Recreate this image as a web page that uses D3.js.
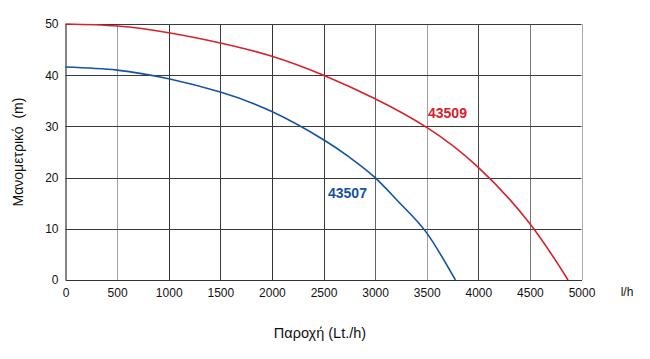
<!DOCTYPE html>
<html><head><meta charset="utf-8">
<script src="https://cdn.jsdelivr.net/npm/d3@7"></script>
<style>body{margin:0;background:#fff}svg{display:block;font-family:"Liberation Sans",Arial,sans-serif}</style>
</head><body>
<svg id="c" width="650" height="359"></svg>
<script>
const xTicks = [0,500,1000,1500,2000,2500,3000,3500,4000,4500,5000];
const yTicks = [0,10,20,30,40,50];
const flow43509 = [0,500,1000,1500,2000,2500,3000,3500,4000,4500,4870];
const head43509 = [50,49.6,48.3,46.3,43.7,40,35.4,29.8,22.0,11.0,0];
const flow43507 = [0,500,1000,1500,2000,2500,2750,3000,3250,3500,3778];
const head43507 = [41.6,41.0,39.3,36.7,32.9,27.4,24.0,20,14.8,9.2,0];
const seriesNames = ["43509","43507"];
const gridShade = {500:"#a0a0a0",1000:"#333",1500:"#3a3a3a",2000:"#333",2500:"#3a3a3a",3000:"#666",3500:"#a0a0a0",4000:"#444",4500:"#777",5000:"#aaa"};

const svg = d3.select("#c");
const x = d3.scaleLinear().domain([0,5000]).range([65.5,581.5]);
const y = d3.scaleLinear().domain([0,50]).range([280,24]);

// grid
svg.append("g").selectAll("line").data(xTicks.filter(d=>d>0)).join("line")
  .attr("x1",d=>Math.round(x(d))+0.5).attr("x2",d=>Math.round(x(d))+0.5)
  .attr("y1",y(50)).attr("y2",y(0))
  .attr("stroke",d=>gridShade[d]).attr("stroke-width",1);
svg.append("g").selectAll("line").data(yTicks.filter(d=>d>0)).join("line")
  .attr("x1",x(0)).attr("x2",x(5000))
  .attr("y1",d=>Math.round(y(d))+0.5).attr("y2",d=>Math.round(y(d))+0.5)
  .attr("stroke","#3a3a3a").attr("stroke-width",1);

// axes
const xAxis = svg.append("g").attr("transform",`translate(0,${y(0)})`)
  .call(d3.axisBottom(x).tickValues(xTicks).tickSize(0).tickPadding(8).tickFormat(d3.format("d")));
xAxis.select(".domain").attr("stroke","#333").attr("stroke-width",1.2);
xAxis.selectAll("text").attr("font-size",12).attr("fill","#111").attr("font-family","Liberation Sans, Arial, sans-serif");
const yAxis = svg.append("g").attr("transform",`translate(${x(0)},0)`)
  .call(d3.axisLeft(y).tickValues(yTicks).tickSize(0).tickPadding(7));
yAxis.select(".domain").attr("stroke","#333").attr("stroke-width",1.2);
yAxis.selectAll("text").attr("font-size",12).attr("fill","#111").attr("font-family","Liberation Sans, Arial, sans-serif");

svg.append("text").attr("x",627).attr("y",296).attr("text-anchor","middle")
  .attr("font-size",12).attr("fill","#111").text("l/h");

// titles
svg.append("text").attr("x",320).attr("y",338).attr("text-anchor","middle")
  .attr("font-size",14.5).attr("fill","#111").text("Παροχή (Lt./h)");
svg.append("text").attr("transform","translate(23,152) rotate(-90)").attr("text-anchor","middle")
  .attr("font-size",14).attr("fill","#111").attr("xml:space","preserve").text("Μανομετρικό  (m)");

// curves
const line = d3.line().x(d=>x(d[0])).y(d=>y(d[1])).curve(d3.curveNatural);
const d09 = flow43509.map((f,i)=>[f,head43509[i]]);
const d07 = flow43507.map((f,i)=>[f,head43507[i]]);
svg.append("path").attr("d",line(d09)).attr("fill","none").attr("stroke","#d9212b").attr("stroke-width",1.6);
svg.append("path").attr("d",line(d07)).attr("fill","none").attr("stroke","#1453a0").attr("stroke-width",1.6);

svg.append("text").attr("x",428).attr("y",118).attr("font-size",14).attr("font-weight","bold")
  .attr("fill","#d9212b").text(seriesNames[0]);
svg.append("text").attr("x",328).attr("y",198).attr("font-size",14).attr("font-weight","bold")
  .attr("fill","#1453a0").text(seriesNames[1]);
</script>
</body></html>
